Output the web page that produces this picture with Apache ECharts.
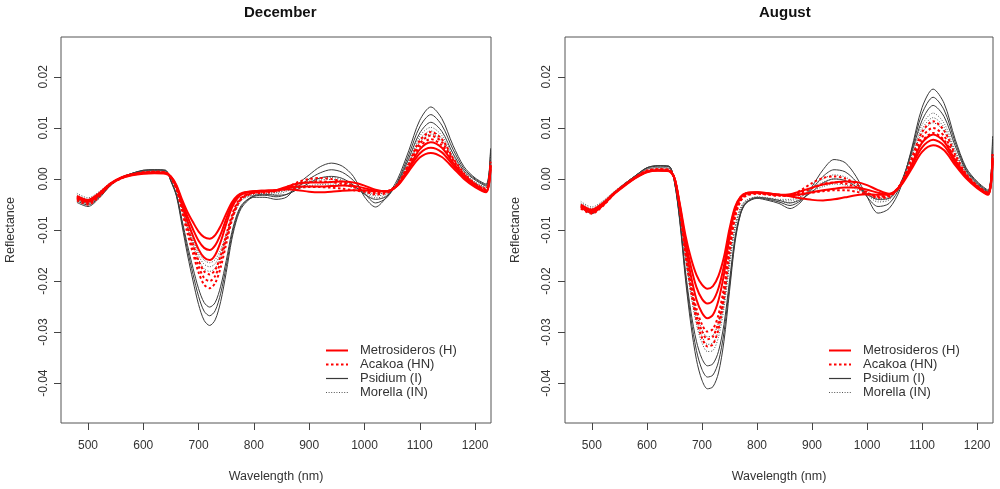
<!DOCTYPE html>
<html><head><meta charset="utf-8">
<script src="https://cdn.jsdelivr.net/npm/echarts@6/dist/echarts.min.js"></script>
<style>html,body{margin:0;padding:0;background:#fff}#c{width:1000px;height:489px}</style>
</head><body><div id="c"></div>
<script>
// Wavelength grid (nm) shared by all spectra
const wavelengths = [480, 500, 520, 540, 560, 580, 600, 620, 640, 650, 660, 670, 680, 690, 700, 710, 720, 730, 740, 750, 760, 770, 780, 800, 820, 840, 860, 880, 900, 920, 940, 960, 980, 1000, 1020, 1040, 1060, 1080, 1100, 1120, 1140, 1160, 1180, 1200, 1220, 1228];
const xTickValues = [500, 600, 700, 800, 900, 1000, 1100, 1200];
const yTickValues = [-0.04, -0.03, -0.02, -0.01, 0, 0.01, 0.02];
const panelTitles = ['December', 'August'];
const speciesNames = ['Metrosideros (H)', 'Acakoa (HN)', 'Psidium (I)', 'Morella (IN)'];

// ---- December ----
const decMetrosideros1 = [-0.0033, -0.0041, -0.0028, -0.0009, 0.0003, 0.0009, 0.0012, 0.0013, 0.0012, 0.0005, -0.0012, -0.0040, -0.0065, -0.0085, -0.0103, -0.0114, -0.0117, -0.0110, -0.0092, -0.0068, -0.0046, -0.0033, -0.0027, -0.0024, -0.0023, -0.0022, -0.0020, -0.0022, -0.0025, -0.0026, -0.0025, -0.0023, -0.0022, -0.0022, -0.0024, -0.0024, -0.0013, 0.0015, 0.0042, 0.0051, 0.0043, 0.0022, 0.0000, -0.0016, -0.0026, 0.0020];
const decMetrosideros2 = [-0.0035, -0.0043, -0.0030, -0.0010, 0.0002, 0.0008, 0.0011, 0.0012, 0.0011, 0.0004, -0.0014, -0.0045, -0.0074, -0.0099, -0.0121, -0.0135, -0.0139, -0.0130, -0.0108, -0.0078, -0.0051, -0.0035, -0.0028, -0.0024, -0.0023, -0.0022, -0.0018, -0.0015, -0.0015, -0.0015, -0.0014, -0.0013, -0.0014, -0.0018, -0.0023, -0.0024, -0.0012, 0.0019, 0.0050, 0.0061, 0.0052, 0.0027, 0.0003, -0.0014, -0.0025, 0.0023];
const decMetrosideros3 = [-0.0037, -0.0045, -0.0032, -0.0011, 0.0001, 0.0007, 0.0010, 0.0011, 0.0010, 0.0004, -0.0016, -0.0050, -0.0083, -0.0112, -0.0138, -0.0154, -0.0159, -0.0149, -0.0123, -0.0088, -0.0057, -0.0038, -0.0029, -0.0025, -0.0024, -0.0022, -0.0015, -0.0009, -0.0007, -0.0007, -0.0006, -0.0005, -0.0007, -0.0013, -0.0021, -0.0024, -0.0012, 0.0022, 0.0058, 0.0072, 0.0061, 0.0032, 0.0006, -0.0012, -0.0024, 0.0026];
const decAcakoa1 = [-0.0036, -0.0044, -0.0031, -0.0010, 0.0002, 0.0009, 0.0013, 0.0014, 0.0013, 0.0003, -0.0018, -0.0056, -0.0094, -0.0128, -0.0160, -0.0181, -0.0187, -0.0178, -0.0150, -0.0110, -0.0072, -0.0046, -0.0034, -0.0026, -0.0024, -0.0023, -0.0020, -0.0017, -0.0016, -0.0016, -0.0017, -0.0019, -0.0022, -0.0025, -0.0027, -0.0025, -0.0010, 0.0025, 0.0063, 0.0078, 0.0066, 0.0035, 0.0007, -0.0011, -0.0022, 0.0030];
const decAcakoa2 = [-0.0039, -0.0047, -0.0033, -0.0011, 0.0002, 0.0009, 0.0013, 0.0014, 0.0013, 0.0002, -0.0019, -0.0059, -0.0100, -0.0137, -0.0171, -0.0194, -0.0200, -0.0190, -0.0161, -0.0118, -0.0077, -0.0049, -0.0035, -0.0027, -0.0025, -0.0023, -0.0017, -0.0010, -0.0006, -0.0005, -0.0006, -0.0010, -0.0016, -0.0023, -0.0027, -0.0026, -0.0010, 0.0028, 0.0069, 0.0085, 0.0072, 0.0038, 0.0009, -0.0010, -0.0021, 0.0032];
const decAcakoa3 = [-0.0042, -0.0050, -0.0035, -0.0012, 0.0001, 0.0008, 0.0012, 0.0013, 0.0012, 0.0002, -0.0020, -0.0063, -0.0107, -0.0146, -0.0183, -0.0207, -0.0214, -0.0204, -0.0173, -0.0127, -0.0082, -0.0052, -0.0037, -0.0028, -0.0027, -0.0024, -0.0016, -0.0006, 0.0000, 0.0002, 0.0000, -0.0006, -0.0014, -0.0024, -0.0030, -0.0028, -0.0011, 0.0030, 0.0075, 0.0092, 0.0078, 0.0041, 0.0011, -0.0009, -0.0020, 0.0034];
const decPsidium1 = [-0.0040, -0.0048, -0.0034, -0.0012, 0.0003, 0.0011, 0.0016, 0.0017, 0.0016, -0.0003, -0.0030, -0.0080, -0.0130, -0.0175, -0.0215, -0.0242, -0.0251, -0.0242, -0.0210, -0.0160, -0.0105, -0.0068, -0.0048, -0.0033, -0.0030, -0.0032, -0.0030, -0.0020, -0.0008, 0.0002, 0.0005, 0.0001, -0.0012, -0.0030, -0.0040, -0.0034, -0.0007, 0.0040, 0.0090, 0.0111, 0.0093, 0.0050, 0.0016, -0.0002, -0.0014, 0.0050];
const decPsidium2 = [-0.0043, -0.0051, -0.0036, -0.0013, 0.0003, 0.0011, 0.0017, 0.0018, 0.0017, -0.0004, -0.0032, -0.0085, -0.0139, -0.0187, -0.0230, -0.0259, -0.0268, -0.0258, -0.0224, -0.0171, -0.0112, -0.0072, -0.0050, -0.0034, -0.0032, -0.0035, -0.0030, -0.0015, 0.0000, 0.0012, 0.0018, 0.0013, -0.0003, -0.0028, -0.0047, -0.0037, -0.0005, 0.0047, 0.0102, 0.0126, 0.0105, 0.0058, 0.0020, 0.0000, -0.0012, 0.0055];
const decPsidium3 = [-0.0046, -0.0054, -0.0038, -0.0014, 0.0002, 0.0011, 0.0017, 0.0018, 0.0017, -0.0005, -0.0034, -0.0091, -0.0149, -0.0200, -0.0246, -0.0277, -0.0287, -0.0276, -0.0240, -0.0183, -0.0119, -0.0076, -0.0053, -0.0036, -0.0036, -0.0040, -0.0035, -0.0010, 0.0008, 0.0024, 0.0031, 0.0025, 0.0005, -0.0035, -0.0055, -0.0035, 0.0000, 0.0055, 0.0115, 0.0141, 0.0118, 0.0066, 0.0024, 0.0002, -0.0010, 0.0060];
const decMorella1 = [-0.0028, -0.0037, -0.0025, -0.0008, 0.0003, 0.0010, 0.0015, 0.0016, 0.0015, 0.0001, -0.0017, -0.0052, -0.0087, -0.0117, -0.0143, -0.0159, -0.0164, -0.0158, -0.0138, -0.0107, -0.0074, -0.0050, -0.0037, -0.0030, -0.0028, -0.0026, -0.0022, -0.0017, -0.0013, -0.0011, -0.0010, -0.0012, -0.0017, -0.0024, -0.0029, -0.0027, -0.0008, 0.0030, 0.0072, 0.0088, 0.0074, 0.0040, 0.0010, -0.0008, -0.0018, 0.0040];
const decMorella2 = [-0.0031, -0.0040, -0.0027, -0.0009, 0.0003, 0.0010, 0.0015, 0.0016, 0.0015, 0.0000, -0.0018, -0.0055, -0.0091, -0.0123, -0.0150, -0.0167, -0.0172, -0.0166, -0.0145, -0.0112, -0.0078, -0.0052, -0.0038, -0.0031, -0.0029, -0.0027, -0.0021, -0.0013, -0.0006, -0.0002, -0.0001, -0.0005, -0.0014, -0.0026, -0.0033, -0.0029, -0.0007, 0.0034, 0.0078, 0.0094, 0.0079, 0.0043, 0.0012, -0.0007, -0.0017, 0.0042];
const decMorella3 = [-0.0034, -0.0043, -0.0029, -0.0010, 0.0003, 0.0010, 0.0015, 0.0016, 0.0015, 0.0000, -0.0019, -0.0058, -0.0096, -0.0129, -0.0158, -0.0176, -0.0181, -0.0175, -0.0153, -0.0118, -0.0082, -0.0055, -0.0040, -0.0032, -0.0031, -0.0030, -0.0024, -0.0014, -0.0004, 0.0002, 0.0003, -0.0002, -0.0013, -0.0028, -0.0037, -0.0032, -0.0008, 0.0036, 0.0084, 0.0101, 0.0085, 0.0046, 0.0014, -0.0006, -0.0016, 0.0045];

// ---- August ----
const augMetrosideros1 = [-0.0050, -0.0060, -0.0047, -0.0028, -0.0011, 0.0003, 0.0014, 0.0017, 0.0016, 0.0002, -0.0050, -0.0110, -0.0155, -0.0188, -0.0207, -0.0215, -0.0210, -0.0190, -0.0153, -0.0098, -0.0055, -0.0035, -0.0028, -0.0026, -0.0028, -0.0031, -0.0034, -0.0038, -0.0041, -0.0042, -0.0040, -0.0036, -0.0032, -0.0030, -0.0031, -0.0031, -0.0015, 0.0018, 0.0053, 0.0066, 0.0056, 0.0027, 0.0001, -0.0018, -0.0031, 0.0035];
const augMetrosideros2 = [-0.0053, -0.0063, -0.0050, -0.0029, -0.0012, 0.0003, 0.0014, 0.0017, 0.0016, 0.0002, -0.0053, -0.0120, -0.0172, -0.0212, -0.0235, -0.0244, -0.0238, -0.0214, -0.0170, -0.0106, -0.0058, -0.0036, -0.0028, -0.0026, -0.0028, -0.0031, -0.0032, -0.0030, -0.0026, -0.0022, -0.0019, -0.0017, -0.0017, -0.0021, -0.0027, -0.0030, -0.0014, 0.0023, 0.0062, 0.0077, 0.0065, 0.0032, 0.0004, -0.0016, -0.0030, 0.0038];
const augMetrosideros3 = [-0.0056, -0.0066, -0.0052, -0.0030, -0.0013, 0.0002, 0.0013, 0.0016, 0.0015, 0.0001, -0.0056, -0.0130, -0.0190, -0.0236, -0.0262, -0.0273, -0.0266, -0.0238, -0.0187, -0.0114, -0.0061, -0.0037, -0.0029, -0.0027, -0.0029, -0.0031, -0.0030, -0.0024, -0.0017, -0.0011, -0.0007, -0.0005, -0.0006, -0.0012, -0.0022, -0.0029, -0.0013, 0.0027, 0.0071, 0.0087, 0.0073, 0.0036, 0.0006, -0.0015, -0.0029, 0.0041];
const augAcakoa1 = [-0.0052, -0.0062, -0.0049, -0.0028, -0.0011, 0.0004, 0.0016, 0.0019, 0.0018, 0.0002, -0.0058, -0.0138, -0.0203, -0.0254, -0.0285, -0.0299, -0.0294, -0.0266, -0.0212, -0.0132, -0.0070, -0.0041, -0.0031, -0.0027, -0.0029, -0.0031, -0.0033, -0.0031, -0.0027, -0.0024, -0.0022, -0.0022, -0.0025, -0.0030, -0.0034, -0.0032, -0.0012, 0.0030, 0.0074, 0.0090, 0.0076, 0.0038, 0.0006, -0.0015, -0.0029, 0.0045];
const augAcakoa2 = [-0.0055, -0.0065, -0.0051, -0.0029, -0.0012, 0.0004, 0.0016, 0.0019, 0.0018, 0.0002, -0.0060, -0.0143, -0.0211, -0.0265, -0.0298, -0.0314, -0.0309, -0.0280, -0.0223, -0.0139, -0.0073, -0.0042, -0.0032, -0.0028, -0.0030, -0.0032, -0.0033, -0.0027, -0.0018, -0.0010, -0.0007, -0.0009, -0.0016, -0.0027, -0.0035, -0.0033, -0.0012, 0.0034, 0.0082, 0.0100, 0.0084, 0.0042, 0.0008, -0.0014, -0.0028, 0.0048];
const augAcakoa3 = [-0.0058, -0.0068, -0.0053, -0.0030, -0.0012, 0.0003, 0.0015, 0.0018, 0.0017, 0.0001, -0.0062, -0.0148, -0.0219, -0.0276, -0.0311, -0.0328, -0.0324, -0.0294, -0.0234, -0.0146, -0.0076, -0.0044, -0.0033, -0.0029, -0.0031, -0.0033, -0.0032, -0.0022, -0.0008, 0.0002, 0.0005, 0.0001, -0.0010, -0.0026, -0.0037, -0.0035, -0.0012, 0.0038, 0.0092, 0.0113, 0.0095, 0.0048, 0.0010, -0.0013, -0.0027, 0.0052];
const augPsidium1 = [-0.0050, -0.0062, -0.0048, -0.0027, -0.0009, 0.0007, 0.0021, 0.0025, 0.0024, -0.0005, -0.0080, -0.0180, -0.0260, -0.0318, -0.0352, -0.0366, -0.0362, -0.0338, -0.0285, -0.0200, -0.0115, -0.0066, -0.0046, -0.0036, -0.0038, -0.0042, -0.0047, -0.0040, -0.0025, -0.0008, 0.0000, -0.0003, -0.0015, -0.0030, -0.0040, -0.0038, -0.0010, 0.0048, 0.0115, 0.0144, 0.0122, 0.0065, 0.0016, -0.0009, -0.0026, 0.0072];
const augPsidium2 = [-0.0053, -0.0065, -0.0050, -0.0028, -0.0009, 0.0007, 0.0022, 0.0026, 0.0025, -0.0005, -0.0083, -0.0188, -0.0273, -0.0336, -0.0373, -0.0388, -0.0384, -0.0358, -0.0301, -0.0210, -0.0120, -0.0068, -0.0047, -0.0037, -0.0040, -0.0045, -0.0052, -0.0042, -0.0020, 0.0005, 0.0018, 0.0014, -0.0005, -0.0035, -0.0054, -0.0048, -0.0015, 0.0052, 0.0128, 0.0160, 0.0135, 0.0072, 0.0019, -0.0007, -0.0024, 0.0078];
const augPsidium3 = [-0.0056, -0.0068, -0.0052, -0.0029, -0.0010, 0.0007, 0.0022, 0.0026, 0.0025, -0.0006, -0.0086, -0.0196, -0.0286, -0.0354, -0.0394, -0.0411, -0.0407, -0.0380, -0.0318, -0.0221, -0.0125, -0.0070, -0.0048, -0.0038, -0.0042, -0.0048, -0.0058, -0.0045, -0.0015, 0.0018, 0.0038, 0.0032, 0.0005, -0.0035, -0.0067, -0.0058, -0.0020, 0.0055, 0.0140, 0.0176, 0.0148, 0.0078, 0.0022, -0.0005, -0.0022, 0.0084];
const augMorella1 = [-0.0044, -0.0055, -0.0043, -0.0025, -0.0008, 0.0006, 0.0019, 0.0022, 0.0021, 0.0000, -0.0062, -0.0145, -0.0212, -0.0263, -0.0295, -0.0309, -0.0306, -0.0282, -0.0232, -0.0158, -0.0092, -0.0056, -0.0042, -0.0035, -0.0037, -0.0040, -0.0040, -0.0034, -0.0024, -0.0015, -0.0010, -0.0012, -0.0020, -0.0030, -0.0038, -0.0036, -0.0012, 0.0040, 0.0090, 0.0110, 0.0093, 0.0048, 0.0010, -0.0012, -0.0027, 0.0060];
const augMorella2 = [-0.0047, -0.0058, -0.0045, -0.0026, -0.0009, 0.0006, 0.0019, 0.0022, 0.0021, 0.0000, -0.0064, -0.0150, -0.0220, -0.0274, -0.0308, -0.0324, -0.0321, -0.0296, -0.0243, -0.0165, -0.0096, -0.0058, -0.0043, -0.0036, -0.0038, -0.0042, -0.0043, -0.0034, -0.0018, -0.0006, 0.0000, -0.0003, -0.0014, -0.0030, -0.0041, -0.0038, -0.0012, 0.0044, 0.0098, 0.0120, 0.0101, 0.0053, 0.0012, -0.0011, -0.0026, 0.0064];
const augMorella3 = [-0.0050, -0.0061, -0.0047, -0.0027, -0.0009, 0.0006, 0.0019, 0.0022, 0.0021, -0.0001, -0.0066, -0.0155, -0.0228, -0.0285, -0.0321, -0.0338, -0.0336, -0.0310, -0.0254, -0.0172, -0.0100, -0.0060, -0.0045, -0.0037, -0.0040, -0.0045, -0.0047, -0.0036, -0.0016, 0.0000, 0.0008, 0.0004, -0.0010, -0.0031, -0.0045, -0.0041, -0.0013, 0.0047, 0.0106, 0.0129, 0.0109, 0.0057, 0.0014, -0.0010, -0.0025, 0.0068];

const FONT = '"Liberation Sans", Arial, sans-serif';
const TXT = '#333';
const styles = {
  'Metrosideros (H)': { color: '#ff0000', width: 2, type: 'solid' },
  'Acakoa (HN)': { color: '#ff0000', width: 2, type: [2.5, 2.5] },
  'Psidium (I)': { color: '#3a3a3a', width: 1, type: 'solid' },
  'Morella (IN)': { color: '#555555', width: 1, type: [1, 1.6] }
};

const panels = [
  { Psidium: [decPsidium1, decPsidium2, decPsidium3], Morella: [decMorella1, decMorella2, decMorella3],
    Acakoa: [decAcakoa1, decAcakoa2, decAcakoa3], Metrosideros: [decMetrosideros1, decMetrosideros2, decMetrosideros3] },
  { Psidium: [augPsidium1, augPsidium2, augPsidium3], Morella: [augMorella1, augMorella2, augMorella3],
    Acakoa: [augAcakoa1, augAcakoa2, augAcakoa3], Metrosideros: [augMetrosideros1, augMetrosideros2, augMetrosideros3] }
];
const drawOrder = [['Psidium', 'Psidium (I)'], ['Morella', 'Morella (IN)'], ['Acakoa', 'Acakoa (HN)'], ['Metrosideros', 'Metrosideros (H)']];

const series = [];
panels.forEach((p, gi) => {
  drawOrder.forEach(([key, name]) => {
    p[key].forEach(vals => {
      const st = styles[name];
      series.push({
        type: 'line', name: name, xAxisIndex: gi, yAxisIndex: gi,
        data: wavelengths.map((w, i) => [w, vals[i]]),
        symbol: 'none', smooth: 0.3, silent: true,
        lineStyle: { color: st.color, width: st.width, type: st.type },
        itemStyle: { color: st.color },
        emphasis: { disabled: true }
      });
    });
  });
});

const grids = [
  { left: 61, top: 37, width: 430, height: 386 },
  { left: 565, top: 37, width: 428, height: 386 }
];

function xAxis(gi) {
  return {
    type: 'value', gridIndex: gi, min: 451.2, max: 1228.8, position: 'bottom',
    name: 'Wavelength (nm)', nameLocation: 'middle', nameGap: 47,
    nameTextStyle: { fontFamily: FONT, fontSize: 12.5, color: TXT },
    axisLine: { show: false, onZero: false }, splitLine: { show: false },
    axisTick: { show: true, inside: false, length: 7, lineStyle: { color: '#444' }, customValues: xTickValues },
    axisLabel: { show: true, margin: 17, fontFamily: FONT, fontSize: 12, color: TXT, customValues: xTickValues, formatter: v => String(v) }
  };
}
function yAxis(gi) {
  return {
    type: 'value', gridIndex: gi, min: -0.0478, max: 0.0278, position: 'left',
    name: 'Reflectance', nameLocation: 'middle', nameGap: gi === 0 ? 44 : 43,
    nameTextStyle: { fontFamily: FONT, fontSize: 12.5, color: TXT },
    axisLine: { show: false, onZero: false }, splitLine: { show: false },
    axisTick: { show: true, inside: false, length: 7, lineStyle: { color: '#444' }, customValues: yTickValues },
    axisLabel: { show: true, rotate: 90, margin: gi === 0 ? 11 : 12, fontFamily: FONT, fontSize: 12, color: TXT,
      customValues: yTickValues, formatter: v => (Math.abs(v) < 1e-9 ? 0 : v).toFixed(2) }
  };
}

function legend(left) {
  return {
    orient: 'vertical', left: left, top: 339, itemWidth: 22, itemHeight: 14, itemGap: 1,
    data: speciesNames.map(n => ({ name: n, lineStyle: { width: styles[n].width === 1 ? 1.2 : 2 } })),
    selectedMode: false,
    itemStyle: { opacity: 0, borderWidth: 0 },
    textStyle: { fontFamily: FONT, fontSize: 13, color: TXT, padding: [0, 0, 0, 7] }
  };
}

const option = {
  animation: false,
  backgroundColor: '#fff',
  title: [
    { text: panelTitles[0], left: 239, top: 0, textStyle: { fontFamily: FONT, fontSize: 15, fontWeight: 'bold', color: '#111' } },
    { text: panelTitles[1], left: 754, top: 0, textStyle: { fontFamily: FONT, fontSize: 15, fontWeight: 'bold', color: '#111' } }
  ],
  grid: grids.map(g => Object.assign({ show: true, borderColor: '#555', borderWidth: 1, backgroundColor: 'transparent' }, g)),
  xAxis: [xAxis(0), xAxis(1)],
  yAxis: [yAxis(0), yAxis(1)],
  legend: [legend(320), legend(823)],
  series: series
};

const chart = echarts.init(document.getElementById('c'), null, { renderer: 'canvas' });
chart.setOption(option);
</script>
</body></html>
